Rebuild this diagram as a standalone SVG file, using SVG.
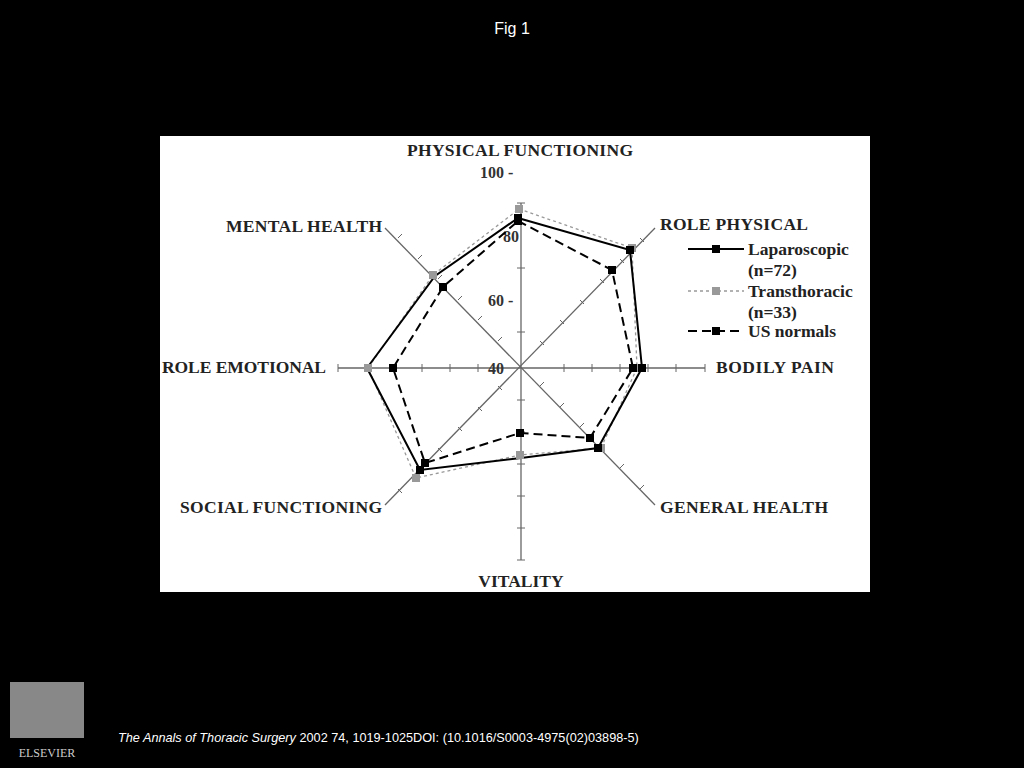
<svg xmlns="http://www.w3.org/2000/svg" width="1024" height="768" viewBox="0 0 1024 768">
<style>
.lb{font-family:"Liberation Serif",serif;font-weight:bold;font-size:17.5px;fill:#222}
.ax{stroke:#666;stroke-width:1.3;fill:none}
.tk{stroke:#666;stroke-width:1}
.s1{fill:none;stroke:#000;stroke-width:2}
.s2{fill:none;stroke:#999;stroke-width:1.3;stroke-dasharray:3 3}
.s3{fill:none;stroke:#000;stroke-width:2;stroke-dasharray:9 5}
</style>
<rect width="1024" height="768" fill="#000"/>
<text x="512" y="34" text-anchor="middle" font-family="Liberation Sans,sans-serif" font-size="16" fill="#fff">Fig 1</text>
<rect x="160" y="136" width="710" height="456" fill="#fff"/>
<g id="axes">
<line class="ax" x1="521" y1="203" x2="521" y2="560"/>
<line class="ax" x1="338" y1="368" x2="705" y2="368"/>
<line class="ax" x1="385" y1="228" x2="655" y2="505"/>
<line class="ax" x1="655" y1="228" x2="385" y2="505"/>
<g class="tk">
<path d="M517 203h8M517 268h8M517 332h8M517 400h8M517 432h8M517 464h8M517 496h8M517 528h8M517 560h8"/>
<path d="M338 364v8M366 364v8M394 364v8M422 364v8M450 364v8M478 364v8M564 364v8M592 364v8M620 364v8M648 364v8M676 364v8M705 364v8"/>
<path d="M398 238l4 -4M418 259l4 -4M438 279l4 -4M458 300l4 -4M478 320l4 -4M498 341l4 -4M540 386l4 -4M560 407l4 -4M580 427l4 -4M600 448l4 -4M620 468l4 -4M640 489l4 -4"/>
<path d="M640 238l4 4M620 259l4 4M600 279l4 4M580 300l4 4M560 320l4 4M540 341l4 4M498 386l4 4M478 407l4 4M458 427l4 4M438 448l4 4M418 468l4 4M398 489l4 4"/>
</g>
<g font-family="Liberation Serif,serif" font-weight="bold" font-size="16" fill="#333">
<text x="480" y="178">100 -</text>
<text x="503" y="242">80</text>
<text x="488" y="306">60 -</text>
<text x="488" y="374">40</text>
</g>
</g>
<g id="connectors">
<polygon class="s2" points="519,209 632,248 637,368 601,448 520,455 416,478 368,368 433,275"/>
<polygon class="s3" points="518,221 612,270 633,368 590,438 520,433 425,463 393,368 443,287"/>
<polygon class="s1" points="518,218 630,250 642,368 598,448 521,458 420,470 367,368 435,276"/>
<g fill="#999"><rect x="515" y="205" width="8" height="8"/><rect x="628" y="244" width="8" height="8"/><rect x="633" y="364" width="8" height="8"/><rect x="597" y="444" width="8" height="8"/><rect x="516" y="451" width="8" height="8"/><rect x="412" y="474" width="8" height="8"/><rect x="364" y="364" width="8" height="8"/><rect x="429" y="271" width="8" height="8"/></g>
<g fill="#000"><rect x="514" y="214" width="8" height="8"/><rect x="626" y="246" width="8" height="8"/><rect x="638" y="364" width="8" height="8"/><rect x="594" y="444" width="8" height="8"/><rect x="416" y="466" width="8" height="8"/>
<rect x="514" y="217" width="8" height="8"/><rect x="608" y="266" width="8" height="8"/><rect x="629" y="364" width="8" height="8"/><rect x="586" y="434" width="8" height="8"/><rect x="516" y="429" width="8" height="8"/><rect x="421" y="459" width="8" height="8"/><rect x="389" y="364" width="8" height="8"/><rect x="439" y="283" width="8" height="8"/></g>
</g>
<g id="labels">
<text class="lb" x="520" y="156" text-anchor="middle" textLength="226">PHYSICAL FUNCTIONING</text>
<text class="lb" x="660" y="230" textLength="148">ROLE PHYSICAL</text>
<text class="lb" x="382" y="232" text-anchor="end" textLength="156">MENTAL HEALTH</text>
<text class="lb" x="716" y="373" textLength="118">BODILY PAIN</text>
<text class="lb" x="326" y="373" text-anchor="end" textLength="164">ROLE EMOTIONAL</text>
<text class="lb" x="660" y="513" textLength="168">GENERAL HEALTH</text>
<text class="lb" x="382" y="513" text-anchor="end" textLength="202">SOCIAL FUNCTIONING</text>
<text class="lb" x="521" y="587" text-anchor="middle">VITALITY</text>
</g>
<g id="legend">
<line class="s1" x1="688" y1="249" x2="744" y2="249"/><rect x="712" y="245" width="8" height="8"/>
<line class="s2" x1="688" y1="291" x2="744" y2="291"/><rect x="712" y="287" width="8" height="8" fill="#999"/>
<line class="s3" x1="688" y1="331" x2="744" y2="331" stroke-dasharray="8 8"/><rect x="712" y="327" width="8" height="8"/>
<text class="lb" x="748" y="255">Laparoscopic</text>
<text class="lb" x="748" y="276">(n=72)</text>
<text class="lb" x="748" y="297">Transthoracic</text>
<text class="lb" x="748" y="318">(n=33)</text>
<text class="lb" x="748" y="337">US normals</text>
</g>
<g id="logo">
<rect x="10" y="682" width="74" height="56" fill="#888"/>
<text x="47" y="757" text-anchor="middle" font-family="Liberation Serif,serif" font-size="12" fill="#ccc">ELSEVIER</text>
</g>
<text x="118" y="742" font-family="Liberation Sans,sans-serif" font-size="12.7" fill="#fff"><tspan font-style="italic">The Annals of Thoracic Surgery</tspan> 2002 74, 1019-1025DOI: (10.1016/S0003-4975(02)03898-5)</text>
</svg>
